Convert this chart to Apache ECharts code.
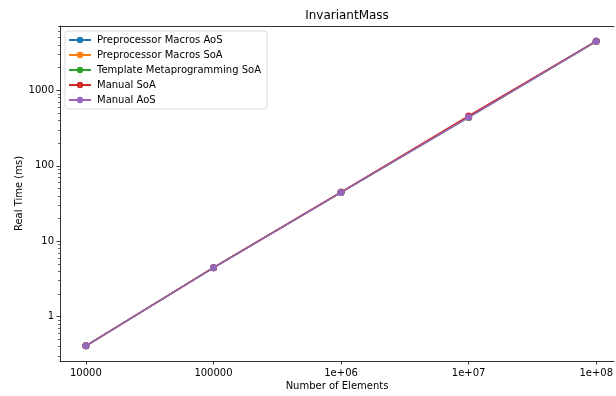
<!DOCTYPE html>
<html><head><meta charset="utf-8">
<script src="https://cdn.jsdelivr.net/npm/echarts@6/dist/echarts.min.js"></script>
<style>html,body{margin:0;padding:0;background:#fff}#c{width:616px;height:396px}</style>
</head><body><div id="c"></div>
<script>
const elements = [10000, 100000, 1000000, 10000000, 100000000];
const seriesNames = ["Preprocessor Macros AoS", "Preprocessor Macros SoA", "Template Metaprogramming SoA", "Manual SoA", "Manual AoS"];
const macrosAoS = [0.41, 4.45, 44.5, 440, 4480];
const macrosSoA = [0.41, 4.45, 44.6, 441, 4480];
const templateSoA = [0.41, 4.45, 44.5, 442, 4485];
const manualSoA = [0.41, 4.46, 44.6, 458, 4490];
const manualAoS = [0.41, 4.44, 44.4, 440, 4475];
const xTicks = [10000, 100000, 1000000, 10000000, 100000000];
const yTicks = [1, 10, 100, 1000];
const yMinorTicks = [0.3,0.4,0.5,0.6,0.7,0.8,0.9,2,3,4,5,6,7,8,9,20,30,40,50,60,70,80,90,200,300,400,500,600,700,800,900,2000,3000,4000,5000,6000,7000];
const colors = ["#1f77b4", "#ff7f0e", "#2ca02c", "#d62728", "#9467bd"];
const allValues = [macrosAoS, macrosSoA, templateSoA, manualSoA, manualAoS];

const font = "DejaVu Sans";
function fmtX(v){
  const e = Math.round(Math.log10(v));
  if (v < 1e6) return String(Math.round(v));
  return "1e+" + String(e).padStart(2, "0");
}
const xMin = Math.pow(10, 3.797), xMax = Math.pow(10, 8.14);
const chart = echarts.init(document.getElementById('c'), null, {renderer: 'canvas'});
chart.setOption({
  animation: false,
  backgroundColor: '#fff',
  title: {text: 'InvariantMass', left: 342, textAlign: 'center', top: 5,
    textStyle: {fontFamily: font, fontSize: 12, fontWeight: 'normal', color: '#000'}},
  grid: {left: 60, top: 26, right: 0, bottom: 34, show: false, containLabel: false},
  legend: {
    orient: 'vertical', left: 65, top: 31, itemGap: 5, itemWidth: 22, itemHeight: 8,
    padding: [4, 6, 4, 3], borderColor: '#d0d0d0', borderWidth: 0.8, borderRadius: 3, backgroundColor: 'rgba(255,255,255,0.8)',
    textStyle: {fontFamily: font, fontSize: 10, color: '#000', padding: [0,0,0,1]},
    data: seriesNames
  },
  xAxis: [{
    type: 'log', logBase: 10, min: xMin, max: xMax,
    name: 'Number of Elements', nameLocation: 'middle', nameGap: 20, nameMoveOverlap: false,
    nameTextStyle: {fontFamily: font, fontSize: 10, color: '#000'},
    axisLine: {lineStyle: {color: '#000', width: 0.8}},
    axisTick: {show: true, length: 3.5, lineStyle: {color: '#000', width: 0.8}, customValues: xTicks},
    axisLabel: {fontFamily: font, fontSize: 10, color: '#000', margin: 7, customValues: xTicks, formatter: fmtX},
    splitLine: {show: false}, minorTick: {show: false}
  }, {
    type: 'log', logBase: 10, min: xMin, max: xMax, position: 'top',
    axisLine: {show: true, lineStyle: {color: '#000', width: 0.8}},
    axisTick: {show: false}, axisLabel: {show: false}, splitLine: {show: false}
  }],
  yAxis: [{
    type: 'log', logBase: 10, min: Math.pow(10, -0.589), max: Math.pow(10, 3.854),
    name: 'Real Time (ms)', nameLocation: 'middle', nameGap: 36, nameMoveOverlap: false,
    nameTextStyle: {fontFamily: font, fontSize: 10, color: '#000'},
    axisLine: {show: true, lineStyle: {color: '#000', width: 0.8}},
    axisTick: {show: true, length: 3.5, lineStyle: {color: '#000', width: 0.8}, customValues: yTicks},
    axisLabel: {fontFamily: font, fontSize: 10, color: '#000', margin: 6, customValues: yTicks, formatter: v => String(Math.round(v))},
    splitLine: {show: false}
  }, {
    type: 'log', logBase: 10, min: Math.pow(10, -0.589), max: Math.pow(10, 3.854), position: 'left', offset: 0,
    axisLine: {show: false},
    axisTick: {show: true, length: 2, lineStyle: {color: '#000', width: 0.6}, customValues: yMinorTicks},
    axisLabel: {show: false}, splitLine: {show: false}
  }],
  series: seriesNames.map((n, i) => ({
    name: n, type: 'line', symbol: 'circle', symbolSize: 7,
    xAxisIndex: 0, yAxisIndex: 0,
    data: elements.map((x, j) => [x, allValues[i][j]]),
    lineStyle: {color: colors[i], width: 1.5},
    itemStyle: {color: colors[i]},
    z: 2 + i
  }))
});
</script></body></html>
